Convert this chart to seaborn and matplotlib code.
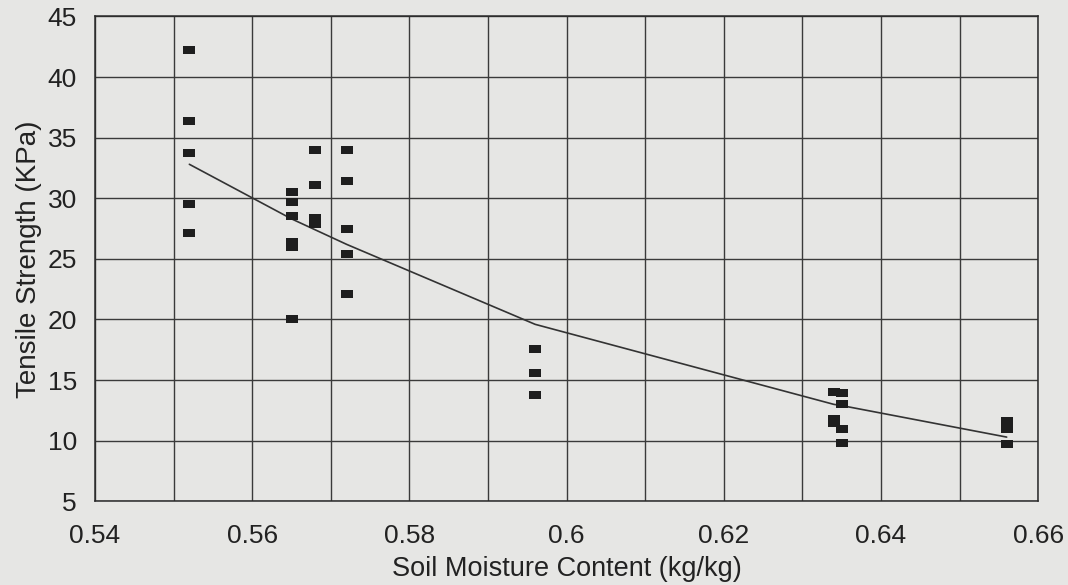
import numpy as np
import pandas as pd
import matplotlib
matplotlib.use('Agg')
import matplotlib.pyplot as plt
from matplotlib.ticker import MultipleLocator, FuncFormatter
import seaborn as sns

# =========================
# 1. DATA
# =========================
moisture = [0.552, 0.552, 0.552, 0.552, 0.552,
            0.565, 0.565, 0.565, 0.565, 0.565, 0.565,
            0.568, 0.568, 0.568, 0.568,
            0.572, 0.572, 0.572, 0.572, 0.572,
            0.596, 0.596, 0.596,
            0.634, 0.635, 0.635, 0.634, 0.634, 0.635, 0.635,
            0.656, 0.656, 0.656]
strength = [42.2, 36.35, 33.7, 29.55, 27.1,
            30.5, 29.7, 28.5, 26.4, 26.0, 20.0,
            34.0, 31.1, 28.4, 27.9,
            33.95, 31.4, 27.5, 25.4, 22.1,
            17.6, 15.55, 13.75,
            13.98, 13.9, 13.0, 11.8, 11.5, 11.0, 9.8,
            11.6, 10.95, 9.7]

fit_moisture = [0.552, 0.565, 0.568, 0.572, 0.596, 0.634, 0.635, 0.656]
fit_strength = [32.8, 28.3, 27.4, 26.2, 19.6, 13.0, 12.9, 10.3]

x_ticks = [0.54, 0.56, 0.58, 0.60, 0.62, 0.64, 0.66]
y_ticks = [5, 10, 15, 20, 25, 30, 35, 40, 45]

pts = pd.DataFrame({'moisture': moisture, 'strength': strength})
fit = pd.DataFrame({'moisture': fit_moisture, 'strength': fit_strength})

# =========================
# 2. STYLE
# =========================
sns.set_theme(style='white')
plt.rcParams['font.family'] = ['Liberation Sans', 'DejaVu Sans']

paper = '#e6e6e4'
ink = '#1e1e1e'

fig, ax = plt.subplots(figsize=(10.68, 5.85), dpi=100)
fig.patch.set_facecolor(paper)
ax.set_facecolor(paper)
plt.subplots_adjust(left=0.089, right=0.972, bottom=0.143, top=0.972)

# wide flat rectangle marker like the scanned chart
rect = [(-1, -0.6), (1, -0.6), (1, 0.6), (-1, 0.6), (-1, -0.6)]

# =========================
# 3. PLOT
# =========================
sns.lineplot(data=fit, x='moisture', y='strength', ax=ax, color='#333333',
             linewidth=1.2, sort=True, estimator=None, zorder=3)
sns.scatterplot(data=pts, x='moisture', y='strength', ax=ax, marker=rect,
                s=80, color=ink, edgecolor=ink, linewidth=0, zorder=4)

ax.set_xlim(0.54, 0.66)
ax.set_ylim(5, 45)
ax.set_xticks(x_ticks)
ax.set_yticks(y_ticks)
ax.xaxis.set_minor_locator(MultipleLocator(0.01))
ax.xaxis.set_major_formatter(FuncFormatter(lambda v, p: '%g' % round(v, 2)))

ax.grid(True, which='both', axis='x', color='#3a3a3a', linewidth=1.0)
ax.grid(True, which='major', axis='y', color='#3a3a3a', linewidth=1.0)
ax.set_axisbelow(True)

for s in ax.spines.values():
    s.set_visible(True)
    s.set_color('#2a2a2a')
    s.set_linewidth(1.1)

ax.tick_params(axis='both', which='both', length=0, labelsize=19, colors='#222222')
ax.tick_params(axis='y', pad=13)
ax.tick_params(axis='x', pad=16)

ax.set_xlabel('Soil Moisture Content (kg/kg)', fontsize=19.5, color='#222222', labelpad=6)
ax.set_ylabel('Tensile Strength (KPa)', fontsize=20, color='#222222', labelpad=4)

plt.savefig('out.png', dpi=100, facecolor=paper)
